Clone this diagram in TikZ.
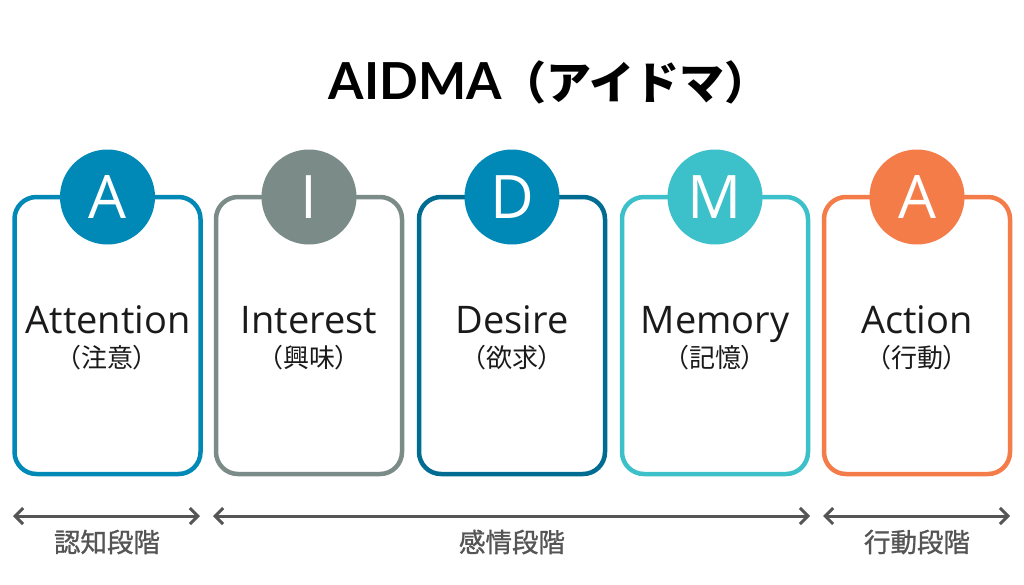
\documentclass[tikz,border=0pt]{standalone}
\usepackage{fontspec}
\setmainfont{Open Sans}
\newfontfamily\jp[RawFeature=+palt]{Noto Sans CJK JP}
\newfontfamily\jpfull{Noto Sans CJK JP}
\newfontfamily\jpmed[FakeBold=1]{Noto Sans CJK JP}
\newfontfamily\titlefont{Lato}
\usetikzlibrary{arrows.meta}
\definecolor{cA}{HTML}{0089B6}
\definecolor{cI}{HTML}{7A8B88}
\definecolor{cDbox}{HTML}{006C91}
\definecolor{cD}{HTML}{0089B6}
\definecolor{cM}{HTML}{3CC0C9}
\definecolor{cAct}{HTML}{F47C48}
\definecolor{txt}{HTML}{1A1A1A}
\definecolor{arrgray}{HTML}{555555}
\begin{document}
\begin{tikzpicture}[x=1pt,y=-1pt,
  stagebox/.style={draw=#1, line width=4.5pt, rounded corners=22pt, minimum width=186pt, minimum height=277pt, fill=white, inner sep=0pt},
  badge/.style={circle, fill=#1, minimum size=95pt, inner sep=0pt, text=white, font=\fontsize{60}{60}\selectfont},
  word/.style={anchor=base, text=txt, font=\fontsize{38}{38}\selectfont, inner sep=0pt},
  subword/.style={text=txt, font=\jp\fontsize{26}{26}\selectfont, inner sep=0pt},
  phase/.style={text=arrgray, font=\jpmed\fontsize{26.5}{26.5}\selectfont, inner sep=0pt},
  span/.style={draw=arrgray, line width=3pt, {Straight Barb[length=8pt,width=16pt]}-{Straight Barb[length=8pt,width=16pt]}}
]
\useasboundingbox (0,0) rectangle (1024,584);
\fill[white] (0,0) rectangle (1024,584);

% title
\node[inner sep=0pt, text=black] (title) at (549,82) {\titlefont\bfseries\fontsize{51}{51}\selectfont AIDMA\jpfull\bfseries\fontsize{45}{45}\selectfont（アイドマ）};

% boxes
\node[stagebox=cA]    (b1) at (107.5,335.5) {};
\node[stagebox=cI]    (b2) at (309,335.5) {};
\node[stagebox=cDbox] (b3) at (512,335.5) {};
\node[stagebox=cM]    (b4) at (715,335.5) {};
\node[stagebox=cAct]  (b5) at (917,335.5) {};

% badges
\node[badge=cA]   (c1) at (107.5,197) {A};
\node[badge=cI]   (c2) at (309,197) {I};
\node[badge=cD]   (c3) at (512,197) {D};
\node[badge=cM]   (c4) at (715,197) {M};
\node[badge=cAct] (c5) at (917,197) {A};

% words
\node[word] (w1) at (108,333) {Attention};
\node[word] (w2) at (309,333) {Interest};
\node[word] (w3) at (512,333) {Desire};
\node[word] (w4) at (715,333) {Memory};
\node[word] (w5) at (917,333) {Action};

\node[subword] (s1) at (107,358) {（注意）};
\node[subword] (s2) at (309,358) {（興味）};
\node[subword] (s3) at (512,358) {（欲求）};
\node[subword] (s4) at (715,358) {（記憶）};
\node[subword] (s5) at (917,358) {（行動）};

% phase arrows
\coordinate (p1l) at (13,516);
\coordinate (p1r) at (200,516);
\coordinate (p2l) at (213,516);
\coordinate (p2r) at (810,516);
\coordinate (p3l) at (823,516);
\coordinate (p3r) at (1010,516);
\draw[span] (p1l) -- (p1r);
\draw[span] (p2l) -- (p2r);
\draw[span] (p3l) -- (p3r);

\node[phase] (t1) at (107,542) {認知段階};
\node[phase] (t2) at (512,542) {感情段階};
\node[phase] (t3) at (917,542) {行動段階};
\end{tikzpicture}
\end{document}
